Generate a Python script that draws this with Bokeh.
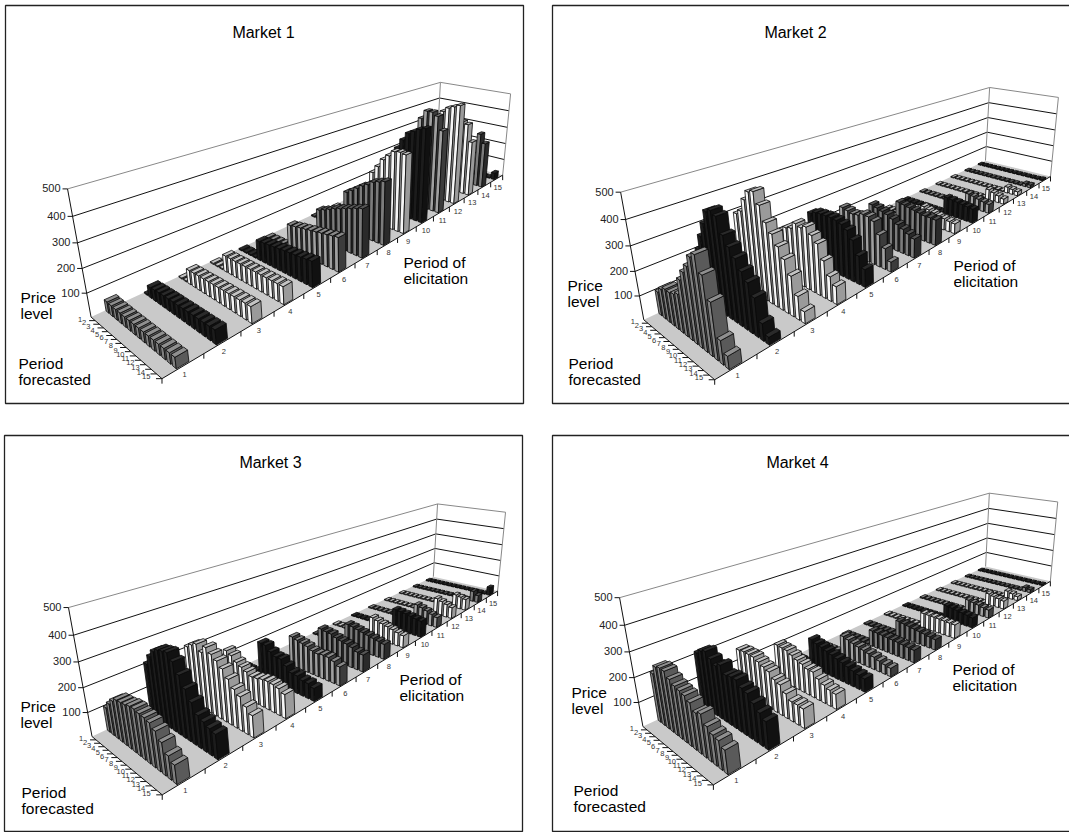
import numpy as np
from bokeh.plotting import figure
from bokeh.models import ColumnDataSource
from bokeh.core.properties import value
from bokeh.embed import file_html
from bokeh.resources import INLINE

periods = list(range(1, 16))
price_ticks = [100, 200, 300, 400, 500]

market_1 = [
    [48, 46, 45, 45, 44, 44, 44, 44, 44, 44, 44, 44, 44, 44, 44],
    [5, 48, 50, 52, 53, 54, 55, 55, 56, 57, 57, 58, 58, 59, 60],
    [5, 5, 64, 65, 66, 66, 67, 68, 68, 69, 69, 70, 70, 71, 71],
    [5, 5, 5, 75, 75, 75, 76, 76, 76, 77, 77, 77, 77, 78, 78],
    [5, 5, 5, 5, 92, 95, 98, 100, 103, 106, 108, 110, 112, 115, 118],
    [5, 5, 5, 5, 5, 120, 124, 129, 133, 138, 142, 147, 151, 156, 160],
    [5, 5, 5, 5, 5, 5, 149, 160, 172, 185, 195, 205, 215, 225, 234],
    [5, 5, 5, 5, 5, 5, 5, 197, 215, 235, 255, 270, 290, 300, 310],
    [5, 5, 5, 5, 5, 5, 5, 5, 260, 298, 340, 367, 394, 399, 394],
    [5, 5, 5, 5, 5, 5, 5, 5, 5, 352, 401, 440, 456, 472, 483],
    [5, 5, 5, 5, 5, 5, 5, 5, 5, 5, 477, 520, 520, 505, 437],
    [5, 5, 5, 5, 5, 5, 5, 5, 5, 5, 5, 488, 511, 523, 535],
    [5, 5, 5, 5, 5, 5, 5, 5, 5, 5, 5, 5, 407, 397, 305],
    [5, 5, 5, 5, 5, 5, 5, 5, 5, 5, 5, 5, 5, 308, 259],
    [5, 5, 5, 5, 5, 5, 5, 5, 5, 5, 5, 5, 5, 5, 40],
]
market_2 = [
    [100, 124, 138, 137, 144, 157, 225, 266, 300, 345, 365, 305, 221, 94, 51],
    [5, 220, 285, 345, 402, 415, 402, 340, 305, 273, 234, 204, 158, 71, 32],
    [5, 5, 320, 340, 395, 435, 445, 400, 340, 305, 265, 225, 170, 100, 50],
    [5, 5, 5, 195, 212, 232, 240, 270, 262, 275, 250, 225, 164, 108, 78],
    [5, 5, 5, 5, 232, 244, 247, 249, 250, 247, 239, 223, 189, 130, 81],
    [5, 5, 5, 5, 5, 215, 209, 202, 206, 219, 217, 205, 152, 99, 47],
    [5, 5, 5, 5, 5, 5, 185, 178, 170, 163, 150, 133, 120, 106, 93],
    [5, 5, 5, 5, 5, 5, 5, 155, 150, 145, 140, 135, 130, 130, 128],
    [5, 5, 5, 5, 5, 5, 5, 5, 88, 80, 72, 66, 60, 55, 52],
    [5, 5, 5, 5, 5, 5, 5, 5, 5, 95, 92, 88, 84, 80, 76],
    [5, 5, 5, 5, 5, 5, 5, 5, 5, 5, 75, 70, 62, 55, 50],
    [5, 5, 5, 5, 5, 5, 5, 5, 5, 5, 5, 60, 50, 40, 30],
    [5, 5, 5, 5, 5, 5, 5, 5, 5, 5, 5, 5, 36, 30, 24],
    [5, 5, 5, 5, 5, 5, 5, 5, 5, 5, 5, 5, 5, 18, 18],
    [5, 5, 5, 5, 5, 5, 5, 5, 5, 5, 5, 5, 5, 5, 8],
]
market_3 = [
    [102, 130, 154, 170, 173, 176, 183, 185, 180, 178, 172, 155, 127, 92, 73],
    [5, 225, 265, 295, 310, 315, 320, 295, 254, 211, 171, 133, 120, 108, 100],
    [5, 5, 245, 262, 275, 250, 280, 262, 245, 223, 192, 162, 144, 114, 92],
    [5, 5, 5, 178, 166, 145, 134, 123, 112, 115, 122, 125, 123, 117, 104],
    [5, 5, 5, 5, 164, 162, 141, 128, 127, 105, 84, 82, 71, 69, 59],
    [5, 5, 5, 5, 5, 145, 138, 132, 126, 115, 110, 114, 113, 104, 89],
    [5, 5, 5, 5, 5, 5, 138, 133, 130, 120, 113, 108, 100, 87, 83],
    [5, 5, 5, 5, 5, 5, 5, 116, 112, 106, 100, 94, 88, 82, 76],
    [5, 5, 5, 5, 5, 5, 5, 5, 108, 100, 92, 85, 78, 70, 63],
    [5, 5, 5, 5, 5, 5, 5, 5, 5, 111, 108, 104, 98, 92, 87],
    [5, 5, 5, 5, 5, 5, 5, 5, 5, 5, 97, 88, 78, 66, 56],
    [5, 5, 5, 5, 5, 5, 5, 5, 5, 5, 5, 94, 84, 74, 63],
    [5, 5, 5, 5, 5, 5, 5, 5, 5, 5, 5, 5, 78, 72, 65],
    [5, 5, 5, 5, 5, 5, 5, 5, 5, 5, 5, 5, 5, 62, 43],
    [5, 5, 5, 5, 5, 5, 5, 5, 5, 5, 5, 5, 5, 5, 50],
]
market_4 = [
    [200, 237, 245, 244, 224, 210, 204, 198, 184, 158, 168, 135, 118, 112, 92],
    [5, 229, 247, 256, 236, 219, 233, 204, 209, 209, 189, 181, 154, 131, 112],
    [5, 5, 189, 192, 191, 190, 180, 170, 161, 139, 130, 105, 84, 84, 81],
    [5, 5, 5, 160, 157, 155, 144, 133, 126, 115, 114, 94, 80, 70, 65],
    [5, 5, 5, 5, 135, 125, 118, 110, 103, 95, 88, 80, 72, 65, 60],
    [5, 5, 5, 5, 5, 100, 93, 85, 78, 72, 66, 60, 52, 45, 40],
    [5, 5, 5, 5, 5, 5, 79, 78, 76, 74, 72, 70, 67, 64, 61],
    [5, 5, 5, 5, 5, 5, 5, 82, 78, 74, 70, 66, 62, 57, 53],
    [5, 5, 5, 5, 5, 5, 5, 5, 79, 78, 77, 76, 74, 72, 71],
    [5, 5, 5, 5, 5, 5, 5, 5, 5, 78, 74, 70, 65, 60, 54],
    [5, 5, 5, 5, 5, 5, 5, 5, 5, 5, 69, 63, 57, 50, 45],
    [5, 5, 5, 5, 5, 5, 5, 5, 5, 5, 5, 65, 58, 52, 46],
    [5, 5, 5, 5, 5, 5, 5, 5, 5, 5, 5, 5, 42, 33, 24],
    [5, 5, 5, 5, 5, 5, 5, 5, 5, 5, 5, 5, 5, 25, 20],
    [5, 5, 5, 5, 5, 5, 5, 5, 5, 5, 5, 5, 5, 5, 6],
]

# left face, right face, top for each elicitation period
GRAY = ("#808080", "#5a5a5a", "#8f8f8f")
BLACK = ("#1c1c1c", "#111111", "#2a2a2a")
WHITE = ("#f6f6f6", "#9a9a9a", "#c4c4c4")
MID = ("#a0a0a0", "#3c3c3c", "#888888")
DARK = ("#7c7c7c", "#2a2a2a", "#555555")
row_colors = [GRAY, BLACK, WHITE, WHITE, BLACK, MID, DARK, DARK, WHITE, BLACK,
              MID, WHITE, WHITE, DARK, BLACK]

PANELS = [
    dict(name="Market 1", data=market_1, box=(5, 5, 523, 403), title=(263, 32),
         A=(90, 316), B0=(436, 156), B5=(440, 83), C0=(502, 176), C5=(510, 92), D0=(162, 378),
         price=(20, 297), forecast=(18, 363), elicit=(403, 262)),
    dict(name="Market 2", data=market_2, box=(552, 5, 1076, 403), title=(795, 32),
         A=(643, 319), B0=(985, 160), B5=(989, 87), C0=(1050, 176), C5=(1058, 97), D0=(714, 379),
         price=(567, 285), forecast=(568, 363), elicit=(953, 265)),
    dict(name="Market 3", data=market_3, box=(4, 435, 522, 831), title=(270, 462),
         A=(91, 735), B0=(433, 577), B5=(437, 503), C0=(497, 590), C5=(505, 512), D0=(162, 795),
         price=(20, 706), forecast=(21, 792), elicit=(399, 679)),
    dict(name="Market 4", data=market_4, box=(552, 435, 1076, 831), title=(797, 462),
         A=(642, 725), B0=(985, 567), B5=(989, 492), C0=(1050, 580), C5=(1057, 502), D0=(713, 785),
         price=(571, 692), forecast=(573, 790), elicit=(952, 669)),
]
A_OFFSETS = [(-4, -23), (-8, -48), (-13, -73), (-18, -100), (-23, -128)]
BAR_HALF_X = 0.15 / 15
BAR_HALF_Y = 0.34 / 15
FONT = "Liberation Sans"


def solve_camera(pn):
    ax, ay = pn["A"]
    pts = [((0, 0, 0), pn["A"]), ((1, 0, 0), pn["B0"]), ((1, 0, 1), pn["B5"]),
           ((1, 1, 0), pn["C0"]), ((1, 1, 1), pn["C5"]), ((0, 1, 0), pn["D0"])]
    for i, (dx, dy) in enumerate(A_OFFSETS):
        pts.append(((0, 0, (i + 1) / 5), (ax + dx, ay + dy)))
    rows = []
    for (X, Y, Z), (u, v) in pts:
        u, v = u / 500, v / 500
        rows.append([X, Y, Z, 1, 0, 0, 0, 0, -u * X, -u * Y, -u * Z, -u])
        rows.append([0, 0, 0, 0, X, Y, Z, 1, -v * X, -v * Y, -v * Z, -v])
    P = np.linalg.svd(np.array(rows, float))[2][-1].reshape(3, 4)

    def project(x, y, z):
        h = P @ np.array([x, y, z, 1.0])
        return h[0] / h[2] * 500, h[1] / h[2] * 500
    return project


p = figure(width=1069, height=832, x_range=(0, 1069), y_range=(832, 0),
           output_backend="svg", toolbar_location=None, min_border=0)
p.axis.visible = False
p.grid.visible = False
p.outline_line_color = None


def add_text(xs, ys, texts, size, align="left", color="#000000"):
    src = ColumnDataSource(dict(x=xs, y=ys, t=texts))
    p.text("x", "y", text="t", source=src, text_font=value(FONT), text_font_size=size,
           text_align=align, text_baseline="middle", text_color=color)


for pn in PANELS:
    proj = solve_camera(pn)
    x0, y0, x1, y1 = pn["box"]
    p.patch([x0, x1, x1, x0], [y0, y0, y1, y1], fill_color="white",
            line_color="#222222", line_width=1.3)

    # walls
    levels = [v / 500 for v in price_ticks]
    xs, ys, cols = [], [], []
    for lv in levels:
        a, b, c = proj(0, 0, lv), proj(1, 0, lv), proj(1, 1, lv)
        xs.append([a[0], b[0], c[0]])
        ys.append([a[1], b[1], c[1]])
        cols.append("#888888" if lv == 1 else "#111111")
    for (xx, yy) in [(1, 0), (1, 1)]:
        b, t = proj(xx, yy, 0), proj(xx, yy, 1)
        xs.append([b[0], t[0]])
        ys.append([b[1], t[1]])
        cols.append("#888888")
    p.multi_line(xs, ys, line_color=cols, line_width=1)

    # floor
    corners = [proj(0, 0, 0), proj(1, 0, 0), proj(1, 1, 0), proj(0, 1, 0)]
    p.patch([c[0] for c in corners], [c[1] for c in corners], fill_color="#c9c9c9",
            line_color=None)

    # axis lines
    a0, a5, d0, c0 = proj(0, 0, 0), proj(0, 0, 1), proj(0, 1, 0), proj(1, 1, 0)
    p.multi_line([[a0[0], a5[0]], [a0[0], d0[0]], [d0[0], c0[0]]],
                 [[a0[1], a5[1]], [a0[1], d0[1]], [d0[1], c0[1]]],
                 line_color="#111111", line_width=1)

    # price ticks and labels
    txs, tys, lxs, lys, labs = [], [], [], [], []
    for v in price_ticks:
        q = proj(0, 0, v / 500)
        txs.append([q[0] - 5, q[0]])
        tys.append([q[1], q[1]])
        lxs.append(q[0] - 7)
        lys.append(q[1] - 0.5)
        labs.append(str(v))
    p.multi_line(txs, tys, line_color="#111111", line_width=1)
    add_text(lxs, lys, labs, "11px", "right", "#222222")

    # forecast axis ticks and labels
    txs, tys, lxs, lys, labs = [], [], [], [], []
    for i, f in enumerate(periods):
        q = proj(0, (i + 1) / 15, 0)
        txs.append([q[0] - 6, q[0]])
        tys.append([q[1], q[1]])
        m = proj(0, (i + 0.5) / 15, 0)
        lxs.append(m[0] - 13)
        lys.append(m[1] + 0.5)
        labs.append(str(f))
    p.multi_line(txs, tys, line_color="#111111", line_width=1)
    add_text(lxs, lys, labs, "7.5px", "center", "#333333")

    # elicitation axis ticks and labels
    txs, tys, lxs, lys, labs = [], [], [], [], []
    for i, e in enumerate(periods):
        q = proj(i / 15, 1, 0)
        txs.append([q[0], q[0]])
        tys.append([q[1], q[1] + 5])
        m = proj((i + 0.5) / 15, 1, 0)
        lxs.append(m[0] + 1)
        lys.append(m[1] + 9)
        labs.append(str(e))
    q = proj(1, 1, 0)
    txs.append([q[0], q[0]])
    tys.append([q[1], q[1] + 5])
    p.multi_line(txs, tys, line_color="#111111", line_width=1)
    add_text(lxs, lys, labs, "7.5px", "center", "#333333")

    # bars, painted from the far row to the near row
    bx, by, fc = [], [], []
    for e in range(14, -1, -1):
        left, right, top = row_colors[e]
        xc = (e + 0.5) / 15
        for f in range(15):
            yc = (f + 0.5) / 15
            z = pn["data"][e][f] / 500
            xa, xb = xc - BAR_HALF_X, xc + BAR_HALF_X
            ya, yb = yc - BAR_HALF_Y, yc + BAR_HALF_Y
            faces = [
                ([(xa, ya, 0), (xa, yb, 0), (xa, yb, z), (xa, ya, z)], left),
                ([(xa, yb, 0), (xb, yb, 0), (xb, yb, z), (xa, yb, z)], right),
                ([(xa, ya, z), (xa, yb, z), (xb, yb, z), (xb, ya, z)], top),
            ]
            for verts, col in faces:
                pts = [proj(*v) for v in verts]
                bx.append([q[0] for q in pts])
                by.append([q[1] for q in pts])
                fc.append(col)
    p.patches(bx, by, fill_color=fc, line_color="#0a0a0a", line_width=0.8)

    # titles
    add_text([pn["title"][0]], [pn["title"][1]], [pn["name"]], "16px", "center")
    px, py = pn["price"]
    add_text([px, px], [py, py + 16], ["Price", "level"], "15.5px")
    fx, fy = pn["forecast"]
    add_text([fx, fx], [fy, fy + 16], ["Period", "forecasted"], "15.5px")
    ex, ey = pn["elicit"]
    add_text([ex, ex], [ey, ey + 16], ["Period of", "elicitation"], "15.5px")

open("out.html", "w").write(file_html(p, INLINE))
